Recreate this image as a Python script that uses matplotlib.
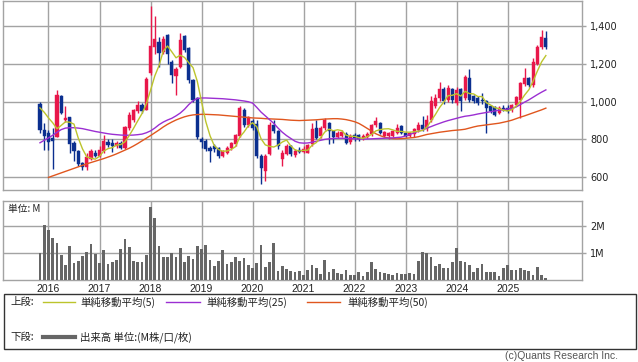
import matplotlib
matplotlib.use('Agg')
import matplotlib.pyplot as plt
import numpy as np
import pandas as pd
from matplotlib.lines import Line2D
from matplotlib.patches import Rectangle
from matplotlib.ticker import FuncFormatter

# ---------------- data (monthly, Nov 2015 - Oct 2025) ----------------
months = pd.period_range('2015-11', '2025-10', freq='M')

opens = [990, 850, 835, 805, 815, 1032, 905, 919, 782, 739,
         677, 651, 695, 726, 712, 739, 786, 782, 765, 782,
         756, 861, 905, 949, 984, 958, 1151, 1291, 1317, 1265,
         1353, 1212, 1135, 1186, 1347, 1286, 1116, 1019, 800, 791,
         756, 765, 756, 712, 730, 756, 774, 818, 954, 874,
         897, 880, 712, 633, 721, 879, 844, 695, 721, 765,
         716, 745, 735, 730, 774, 861, 817, 861, 888, 844,
         815, 820, 830, 785, 825, 825, 805, 815, 830, 875,
         885, 817, 817, 817, 835, 870, 835, 817, 826, 849,
         879, 853, 905, 975, 1019, 1067, 1011, 1067, 993, 1067,
         1019, 1124, 1028, 1019, 1011, 1002, 975, 970, 940, 967,
         967, 955, 984, 1011, 1094, 1124, 1089, 1203, 1291, 1340]

highs = [1000, 888, 850, 860, 1060, 1035, 975, 920, 790, 742,
         680, 726, 747, 742, 765, 821, 800, 800, 790, 790,
         870, 944, 960, 1002, 995, 1130, 1510, 1458, 1344, 1352,
         1361, 1220, 1185, 1367, 1355, 1290, 1120, 1025, 810, 800,
         765, 775, 760, 745, 765, 785, 830, 975, 965, 925,
         910, 905, 720, 720, 890, 905, 850, 745, 775, 770,
         750, 760, 765, 775, 888, 905, 870, 914, 895, 850,
         845, 850, 840, 830, 835, 830, 830, 840, 880, 920,
         890, 845, 840, 850, 884, 875, 840, 840, 860, 890,
         926, 932, 1030, 1040, 1103, 1080, 1089, 1075, 1080, 1075,
         1140, 1172, 1035, 1030, 1045, 1010, 985, 980, 975, 985,
         985, 990, 1030, 1105, 1177, 1130, 1230, 1300, 1379, 1375]

lows = [835, 745, 745, 642, 810, 935, 895, 730, 686, 660,
        639, 639, 690, 705, 705, 730, 760, 733, 755, 750,
        750, 850, 895, 940, 940, 955, 1140, 1256, 1186, 1255,
        1203, 1100, 1037, 1180, 1265, 1100, 1000, 800, 756, 740,
        681, 735, 700, 705, 720, 745, 765, 810, 865, 865,
        850, 700, 563, 581, 715, 835, 750, 660, 715, 710,
        705, 730, 725, 725, 765, 800, 805, 850, 774, 780,
        805, 810, 775, 775, 790, 790, 795, 805, 820, 865,
        830, 810, 800, 810, 830, 830, 810, 810, 815, 840,
        845, 845, 895, 965, 1005, 990, 1000, 995, 985, 950,
        1010, 1000, 995, 985, 990, 835, 940, 925, 935, 950,
        940, 945, 975, 914, 1085, 1080, 1080, 1195, 1280, 1280]

closes = [850, 820, 785, 790, 1037, 940, 915, 774, 739, 668,
          651, 704, 739, 712, 744, 791, 768, 765, 782, 756,
          867, 932, 954, 984, 949, 1121, 1295, 1335, 1260, 1335,
          1256, 1142, 1175, 1330, 1274, 1116, 1011, 814, 786, 747,
          739, 747, 712, 739, 756, 779, 821, 967, 874, 919,
          861, 712, 650, 712, 879, 844, 765, 730, 765, 721,
          739, 735, 750, 768, 853, 809, 861, 905, 844, 810,
          835, 838, 782, 820, 805, 800, 820, 830, 875, 900,
          835, 838, 835, 844, 861, 835, 817, 835, 853, 879,
          853, 905, 1002, 1019, 1067, 1002, 1072, 1011, 1063, 1002,
          1130, 1011, 1002, 993, 1002, 967, 949, 932, 967, 958,
          949, 984, 1023, 1098, 1124, 1089, 1212, 1291, 1344, 1291]

volumes_m = [0.99, 2.04, 1.85, 1.57, 1.37, 0.93, 0.56, 1.26, 0.63, 0.70,
             0.89, 1.04, 1.33, 0.96, 0.63, 1.11, 0.59, 0.67, 0.74, 1.15,
             1.52, 1.22, 0.70, 0.67, 0.67, 0.93, 2.70, 2.30, 1.26, 0.85,
             0.85, 1.00, 0.85, 1.19, 0.67, 0.89, 0.78, 1.26, 1.15, 1.30,
             0.74, 0.52, 0.70, 1.11, 0.59, 0.67, 0.85, 0.70, 0.81, 0.56,
             0.44, 0.63, 1.30, 0.48, 0.67, 1.37, 0.33, 0.52, 0.41, 0.33,
             0.30, 0.33, 0.19, 0.37, 0.56, 0.46, 0.22, 0.74, 0.30, 0.41,
             0.26, 0.22, 0.37, 0.19, 0.19, 0.30, 0.15, 0.30, 0.67, 0.41,
             0.30, 0.26, 0.22, 0.19, 0.26, 0.22, 0.22, 0.26, 0.22, 0.70,
             1.04, 1.00, 0.85, 0.52, 0.59, 0.43, 0.44, 0.67, 1.19, 0.70,
             0.67, 0.56, 0.30, 0.44, 0.59, 0.30, 0.30, 0.30, 0.15, 0.44,
             0.56, 0.37, 0.37, 0.44, 0.37, 0.33, 0.19, 0.48, 0.19, 0.07]

# moving averages (history before Nov 2015 is not shown)
ma5_head = [967, 944, 914, 888]
ma25 = [782, 795, 808, 822, 838, 852, 860, 862, 862, 860,
        857, 852, 847, 842, 838, 834, 830, 827, 825, 823,
        822, 822, 823, 825, 828, 835, 845, 860, 878, 892,
        903, 912, 925, 940, 960, 985, 1005, 1017, 1020, 1020,
        1019, 1018, 1017, 1016, 1014, 1012, 1010, 1007, 1004, 1000,
        993, 970, 945, 925, 905, 885, 860, 838, 820, 805,
        790, 782, 780, 781, 785, 790, 795, 800, 803, 805,
        806, 806, 805, 804, 803, 802, 802, 802, 803, 804,
        805, 806, 807, 808, 810, 812, 818, 826, 835, 843,
        850, 860, 868, 877, 885, 893, 900, 906, 912, 918,
        923, 926, 930, 935, 939, 943, 947, 951, 955, 958,
        961, 965, 972, 985, 998, 1010, 1024, 1038, 1051, 1063]
ma50 = [np.nan, np.nan, 598, 606, 614, 622, 630, 638, 646, 654,
        662, 670, 677, 684, 691, 698, 706, 714, 723, 733,
        743, 753, 765, 778, 792, 806, 820, 835, 850, 866,
        880, 892, 903, 912, 920, 926, 930, 932, 933, 933,
        932, 931, 930, 928, 926, 924, 922, 920, 918, 916,
        914, 913, 912, 910, 909, 908, 907, 906, 904, 902,
        901, 900, 901, 902, 903, 904, 906, 908, 909, 910,
        910, 908, 905, 900, 894, 885, 872, 858, 844, 830,
        820, 812, 807, 804, 803, 804, 806, 808, 810, 814,
        820, 826, 830, 834, 838, 841, 844, 847, 849, 851,
        854, 860, 866, 871, 874, 877, 880, 883, 886, 891,
        896, 902, 910, 918, 925, 933, 941, 949, 957, 966]

price_ticks = [600, 800, 1000, 1200, 1400]
vol_ticks = [1, 2]
vol_tick_labels = ['1M', '2M']

legend_upper = ['単純移動平均(5)', '単純移動平均(25)', '単純移動平均(50)']
legend_lower = '出来高 単位:(M株/口/枚)'

# ---------------- style ----------------
RED = '#e8174a'
BLUE = '#0b2f8f'
C_MA5 = '#bcc42c'
C_MA25 = '#9b2fd2'
C_MA50 = '#e0561e'
GRID = '#a3a3a3'
VOLC = '#666666'
JP = ['Noto Sans CJK JP', 'DejaVu Sans']
NARROW = ['Liberation Sans Narrow', 'Liberation Sans', 'DejaVu Sans']

W, H = 638, 362
fig = plt.figure(figsize=(W / 100, H / 100), dpi=100)
fig.patch.set_facecolor('white')


def fx(px):
    return px / W


def fy(py):
    return 1 - py / H


x = np.arange(len(months))
o = np.array(opens, float)
h = np.array(highs, float)
l = np.array(lows, float)
c = np.array(closes, float)
up = c >= o
cols = np.where(up, RED, BLUE)

ma5 = pd.Series(c).rolling(5).mean().to_numpy()
ma5[:4] = ma5_head

ax = fig.add_axes([fx(3), fy(190), fx(582) - fx(3), fy(0.5) - fy(190)])
axv = fig.add_axes([fx(3), fy(280), fx(582) - fx(3), fy(201) - fy(280)], sharex=ax)

year_pos = [i for i, m in enumerate(months) if m.month == 1]
year_lab = [str(months[i].year) for i in year_pos]

for a in (ax, axv):
    a.set_xlim(-8.7, 127.5)
    for s in a.spines.values():
        s.set_color(GRID)
        s.set_linewidth(1.0)
    a.set_xticks(year_pos)
    a.grid(True, color=GRID, linewidth=1.0)
    a.set_axisbelow(True)
    a.yaxis.tick_right()
    a.tick_params(axis='y', length=3, width=1, color=GRID, pad=3, labelsize=7, labelcolor='#222222')
    a.tick_params(axis='x', length=0)

# candles
ax.vlines(x, l, h, colors=cols, linewidth=1.0, zorder=3)
body_bottom = np.minimum(o, c)
body_h = np.maximum(np.abs(c - o), 4)
ax.bar(x, body_h, bottom=body_bottom, width=0.72, color=cols, edgecolor=cols, linewidth=0.3, zorder=4)

ax.plot(x, ma50, color=C_MA50, linewidth=1.0, zorder=5)
ax.plot(x, ma25, color=C_MA25, linewidth=1.0, zorder=5)
ax.plot(x, ma5, color=C_MA5, linewidth=1.0, zorder=6)

ax.set_ylim(531, 1538)
ax.set_yticks(price_ticks)
ax.yaxis.set_major_formatter(FuncFormatter(lambda v, p: f'{int(v):,}'))
ax.tick_params(axis='x', labelbottom=False)

# volume
axv.bar(x, volumes_m, width=0.65, color=VOLC, zorder=3)
axv.set_ylim(0, 2.93)
axv.set_yticks(vol_ticks)
axv.set_yticklabels(vol_tick_labels)
axv.set_xticklabels(year_lab)
axv.tick_params(axis='x', labelsize=7.5, pad=3, labelcolor='#222222')
for t in axv.get_xticklabels():
    t.set_family(NARROW)
axv.text(0.009, 0.9, '単位: M', transform=axv.transAxes, fontsize=7, family=JP,
         va='center', ha='left', color='#222222',
         bbox=dict(facecolor='white', edgecolor='none', pad=0.5), zorder=10)

# legend box
fig.add_artist(Rectangle((fx(4), fy(349)), fx(636) - fx(4), fy(294) - fy(349),
                         transform=fig.transFigure, fill=False, edgecolor='#333333', linewidth=1.0))
ry1, ry2 = fy(302), fy(337)
fig.text(fx(10), ry1, '上段:', fontsize=7.5, family=JP, va='center', ha='left', color='#222222')
items = [(43, 75, 80, C_MA5), (166, 200, 206, C_MA25), (307, 340, 347, C_MA50)]
for (x0, x1, xt, col), lab in zip(items, legend_upper):
    fig.add_artist(Line2D([fx(x0), fx(x1)], [ry1, ry1], color=col, linewidth=1.0,
                          transform=fig.transFigure))
    fig.text(fx(xt), ry1, lab, fontsize=7.5, family=JP, va='center', ha='left', color='#222222')
fig.text(fx(10), ry2, '下段:', fontsize=7.5, family=JP, va='center', ha='left', color='#222222')
fig.add_artist(Line2D([fx(43), fx(75)], [ry2, ry2], color=VOLC, linewidth=3.0,
                      transform=fig.transFigure))
fig.text(fx(80), ry2, legend_lower, fontsize=7.5, family=JP, va='center', ha='left', color='#222222')

fig.text(fx(618), fy(356), '(c)Quants Research Inc.', fontsize=7.5, family=NARROW,
         va='center', ha='right', color='#555555')

fig.savefig('out.png', dpi=100, facecolor='white')
